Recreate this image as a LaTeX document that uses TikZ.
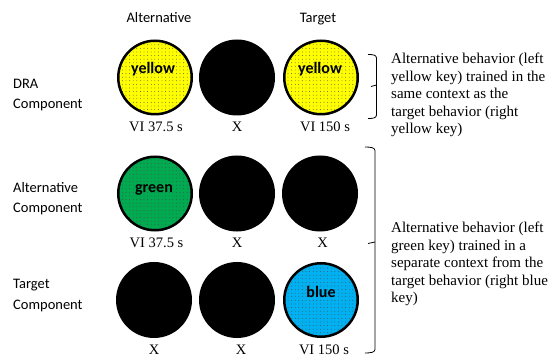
\documentclass[tikz,border=0pt]{standalone}
\usepackage{fontspec}
\setmainfont{Liberation Serif}
\newfontfamily\calibri{Carlito}
\usetikzlibrary{patterns.meta}

\definecolor{keyyellow}{RGB}{255,255,0}
\definecolor{keygreen}{RGB}{0,170,80}
\definecolor{keyblue}{RGB}{0,176,240}

\begin{document}
\begin{tikzpicture}[x=1pt,y=-1pt,
  key/.style={circle, draw=black, line width=2.5pt, minimum size=73.5pt, inner sep=0pt},
  lit/.style={key, preaction={fill=#1},
    pattern={Dots[distance=3.6pt,radius=0.45pt]}, pattern color=black!70},
  dark/.style={key, fill=black},
  keytext/.style={font=\calibri\bfseries\fontsize{16}{19}\selectfont, anchor=base, inner sep=0pt},
  sched/.style={font=\fontsize{14.5}{17}\selectfont, anchor=base, inner sep=0pt},
  head/.style={font=\calibri\fontsize{14.5}{18}\selectfont, anchor=base, inner sep=0pt},
  rowlabel/.style={font=\calibri\fontsize{14.5}{18}\selectfont, anchor=base west, inner sep=0pt},
  note/.style={font=\fontsize{15}{17.5}\selectfont, align=left, anchor=north west, inner sep=0pt},
  brace/.style={draw=black, line width=0.8pt}]
\useasboundingbox (0,0) rectangle (552,358);

% column headings
\node[head] (hAlt) at (159,23) {Alternative};
\node[head] (hTgt) at (318,23) {Target};

% row labels
\node[rowlabel] (r1a) at (13,89) {DRA};
\node[rowlabel] (r1b) at (13,109) {Component};
\node[rowlabel] (r2a) at (13,193) {Alternative};
\node[rowlabel] (r2b) at (13,213) {Component};
\node[rowlabel] (r3a) at (13,289) {Target};
\node[rowlabel] (r3b) at (13,309) {Component};

% DRA component keys
\node[lit=keyyellow] (k11) at (155,77.5) {};
\node[dark] (k12) at (237,77.5) {};
\node[lit=keyyellow] (k13) at (321,77.5) {};
\node[keytext] (t11) at (153,74) {yellow};
\node[keytext] (t13) at (320,74) {yellow};
\node[sched] (s11) at (156,132) {VI 37.5 s};
\node[sched] (s12) at (237,132) {X};
\node[sched] (s13) at (325,132) {VI 150 s};

% Alternative component keys
\node[lit=keygreen] (k21) at (155,193.5) {};
\node[dark] (k22) at (237,193.5) {};
\node[dark] (k23) at (320,193.5) {};
\node[keytext] (t21) at (154,193) {green};
\node[sched] (s21) at (156.5,248) {VI 37.5 s};
\node[sched] (s22) at (237,248) {X};
\node[sched] (s23) at (322.5,248) {X};

% Target component keys
\node[dark] (k31) at (154,300) {};
\node[dark] (k32) at (237,300) {};
\node[lit=keyblue] (k33) at (321,300) {};
\node[keytext] (t33) at (321,298) {blue};
\node[sched] (s31) at (154,355) {X};
\node[sched] (s32) at (241,355) {X};
\node[sched] (s33) at (324,355) {VI 150 s};

% braces and notes
\draw[brace] (368,54.5) .. controls (373,54.5) and (376.5,55) .. (376.5,58)
  -- (376.5,115) .. controls (376.5,118) and (373,118.5) .. (368,118.5);
\draw[brace] (376.5,85) -- (371,86.5);
\node[note] (n1) at (391,53) {Alternative behavior (left\\yellow key) trained in the\\same context as the\\target behavior (right\\yellow key)};

\draw[brace] (365,147) .. controls (370,147) and (375,147.5) .. (375,150.5)
  -- (375,349.5) .. controls (375,352.5) and (370,353) .. (365,353);
\draw[brace] (375,242) -- (368,243.5);
\node[note] (n2) at (391,222) {Alternative behavior (left\\green key) trained in a\\separate context from the\\target behavior (right blue\\key)};
\end{tikzpicture}
\end{document}
